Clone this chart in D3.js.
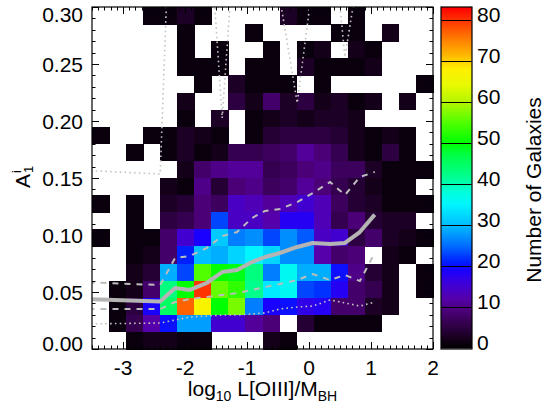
<!DOCTYPE html>
<html><head><meta charset="utf-8">
<script src="https://cdn.jsdelivr.net/npm/d3@7"></script>
<style>body{margin:0;background:#fff} text{font-family:"Liberation Sans",Arial,Helvetica,sans-serif;fill:#000}</style>
</head><body><svg id="c" width="546" height="411"></svg>
<script>
// ---- data ----
const xDomain = [-3.5, 2.0];
const yDomain = [0, 0.30];
const nBinsX = 20, nBinsY = 20;
// counts per cell, rows from top (A high) to bottom (A low), columns left to right
const counts = [
 [0,0,0,1,1,3,1,0,0,0,0,3,1,1,0,1,0,0,0,0],
 [0,0,0,0,0,1,0,0,0,1,0,0,0,0,1,1,0,2,0,0],
 [0,0,0,0,0,1,0,1,0,0,1,0,1,2,0,2,1,0,0,0],
 [0,0,0,0,0,1,1,1,0,1,1,0,3,1,1,1,2,0,0,0],
 [0,0,0,0,0,0,1,0,3,1,1,1,0,1,0,0,0,0,0,1],
 [0,0,0,0,0,2,0,0,5,2,8,3,5,2,3,1,2,0,2,0],
 [0,0,0,0,0,1,0,3,0,1,2,3,2,3,3,2,0,0,0,0],
 [1,0,0,1,1,3,2,1,0,1,4,5,5,5,4,2,1,2,1,0],
 [0,0,1,0,1,3,1,2,6,6,7,8,11,9,6,2,1,5,1,0],
 [0,0,0,0,0,2,8,10,11,11,6,7,9,10,7,7,3,1,1,1],
 [0,0,0,0,2,1,10,4,9,10,7,8,11,9,6,4,2,1,1,0],
 [1,0,1,0,3,4,9,7,14,13,11,13,15,13,7,4,3,1,1,1],
 [0,0,1,0,5,6,9,23,14,14,12,18,18,13,6,9,4,3,3,0],
 [1,0,1,1,8,15,19,31,26,27,23,27,24,14,15,5,8,3,2,1],
 [0,0,1,2,8,21,30,29,32,35,32,27,27,12,8,9,0,2,1,0],
 [0,0,2,4,29,23,55,50,49,43,26,36,29,29,20,10,4,2,0,1],
 [0,1,2,8,43,50,80,56,53,42,34,36,23,22,18,8,6,2,0,1],
 [0,1,5,19,45,77,67,50,57,26,19,20,17,18,8,8,3,2,0,0],
 [0,1,6,12,20,28,28,15,15,11,9,0,4,1,1,1,1,0,0,0],
 [0,0,1,2,2,1,1,0,0,0,2,1,0,0,0,0,0,0,0,0]
];
// running statistics lines
const lineX   = [-3.75,-2.40,-2.16,-1.92,-1.65,-1.40,-1.16,-0.92,-0.71,-0.47,-0.19,0.06,0.34,0.58,0.82,1.06];
const medianY = [0.0440,0.0417,0.0535,0.0518,0.0579,0.0675,0.0693,0.0763,0.0807,0.0842,0.0895,0.0930,0.0921,0.0930,0.1026,0.1179];
const upperQY = [0.0588,0.0561,0.0798,0.0816,0.0886,0.0991,0.1026,0.1149,0.1211,0.1228,0.1289,0.1368,0.1465,0.1351,0.1509,0.1553];
const lowerQY = [0.0351,0.0351,0.0412,0.0439,0.0456,0.0474,0.0491,0.0518,0.0544,0.0570,0.0605,0.0658,0.0605,0.0649,0.0596,0.0842];
const lowPctY = [0.0219,0.0228,0.0254,0.0281,0.0289,0.0298,0.0298,0.0307,0.0316,0.0351,0.0368,0.0377,0.0430,0.0404,0.0377,0.0412];
const highPctY= [0.1570,0.1535,0.5110,0.5500,0.4070,0.2026,0.3920,0.4500,0.4000,0.3075,0.2158,0.3210,0.3880,0.2561,0.3380,0.3500];
const xTicks = [-3,-2,-1,0,1,2];
const yTicks = [0.00,0.05,0.10,0.15,0.20,0.25,0.30];
const cbTicks = [0,10,20,30,40,50,60,70,80];
// colour table (count -> colour)
const cmapStops = [0,2,5,9,12,16,19,21,25,30,35,38,42,47,50,55,60,64,68,71,75,80,83];
const cmapColors = ["#000000","#140019","#2d0041","#4b0078","#5500aa","#3c00dc","#1900ff","#001eff","#006eff","#00beff","#00f5ff","#00ffdc","#00ff8c","#00ff46","#00ff00","#50ff00","#b4f500","#e6fa00","#fff000","#ffbe00","#ff8200","#ff3200","#ff0000"];

// ---- layout ----
const W=546,H=411;
const P={l:92,r:433,t:7,b:349};
const svg=d3.select("#c");
const x=d3.scaleLinear().domain(xDomain).range([P.l,P.r]);
const y=d3.scaleLinear().domain(yDomain).range([P.b,P.t]);
const cmap=d3.scaleLinear().domain(cmapStops).range(cmapColors).interpolate(d3.interpolateRgb).clamp(true);
const dx=(xDomain[1]-xDomain[0])/nBinsX, dy=(yDomain[1]-yDomain[0])/nBinsY;

// cells
const cells=[];
counts.forEach((row,r)=>row.forEach((v,c)=>{ if(v>0) cells.push({r,c,v}); }));
svg.append("g").attr("shape-rendering","crispEdges").selectAll("rect").data(cells).join("rect")
  .attr("x",d=>x(xDomain[0]+d.c*dx))
  .attr("width",d=>x(xDomain[0]+(d.c+1)*dx)-x(xDomain[0]+d.c*dx)+0.5)
  .attr("y",d=>y(yDomain[1]-d.r*dy))
  .attr("height",d=>y(yDomain[1]-(d.r+1)*dy)-y(yDomain[1]-d.r*dy)+0.5)
  .attr("fill",d=>cmap(d.v));

// lines
svg.append("clipPath").attr("id","clip").append("rect").attr("x",P.l).attr("y",P.t).attr("width",P.r-P.l).attr("height",P.b-P.t);
const lg=svg.append("g").attr("clip-path","url(#clip)").attr("fill","none");
const mk=ys=>d3.line().x((d,i)=>x(lineX[i])).y(d=>y(d))(ys);
lg.append("path").attr("d",mk(lowPctY)).attr("stroke","#c4c4c4").attr("stroke-width",1.6).attr("stroke-dasharray","1.6,3.2");
lg.append("path").attr("d",mk(highPctY)).attr("stroke","#c4c4c4").attr("stroke-width",1.6).attr("stroke-dasharray","1.6,3.2");
lg.append("path").attr("d",mk(lowerQY)).attr("stroke","#bdbdbd").attr("stroke-width",2).attr("stroke-dasharray","6,6");
lg.append("path").attr("d",mk(upperQY)).attr("stroke","#bdbdbd").attr("stroke-width",2).attr("stroke-dasharray","6,6");
lg.append("path").attr("d",mk(medianY)).attr("stroke","#b4b4b4").attr("stroke-width",4).attr("stroke-linejoin","round");

// ticks
const tg=svg.append("g").attr("stroke","#000").attr("stroke-width",1);
const xMinor=d3.range(-35,21).map(d=>d/10);
const yMinor=d3.range(0,31).map(d=>d/100);
const tick=(arr,len,isX)=>arr.forEach(v=>{
  if(isX){const px=Math.round(x(v))+0.5;
    tg.append("line").attr("x1",px).attr("x2",px).attr("y1",P.b).attr("y2",P.b-len);
    tg.append("line").attr("x1",px).attr("x2",px).attr("y1",P.t).attr("y2",P.t+len);}
  else{const py=Math.round(y(v))+0.5;
    tg.append("line").attr("y1",py).attr("y2",py).attr("x1",P.l).attr("x2",P.l+len);
    tg.append("line").attr("y1",py).attr("y2",py).attr("x1",P.r).attr("x2",P.r-len);}
});
tick(xMinor,3.5,true); tick(xTicks,7,true);
tick(yMinor,3.5,false); tick(yTicks,7,false);
svg.append("rect").attr("x",P.l).attr("y",P.t).attr("width",P.r-P.l).attr("height",P.b-P.t)
  .attr("fill","none").attr("stroke","#000").attr("stroke-width",1.2);

// tick labels
const FS=21;
svg.append("g").selectAll("text").data(xTicks).join("text")
  .attr("x",d=>x(d)).attr("y",375).attr("text-anchor","middle").attr("font-size",FS)
  .text(d=>d3.format("d")(d).replace("−","-"));
svg.append("g").selectAll("text").data(yTicks).join("text")
  .attr("x",83).attr("y",d=>Math.min(343,Math.max(14,y(d)))).attr("dy","0.36em")
  .attr("text-anchor","end").attr("font-size",FS).text(d=>d3.format(".2f")(d));

// axis titles
const xt=svg.append("text").attr("x",(P.l+P.r)/2).attr("y",396).attr("text-anchor","middle").attr("font-size",FS);
xt.append("tspan").text("log");
xt.append("tspan").attr("font-size",14).attr("dy",5).text("10");
xt.append("tspan").attr("dy",-5).text(" L[OIII]/M");
xt.append("tspan").attr("font-size",14).attr("dy",5).text("BH");

const yt=svg.append("g").attr("transform","translate(30,181) rotate(-90)");
yt.append("text").attr("x",-7).attr("y",0).attr("font-size",FS).text("A");
yt.append("text").attr("x",8).attr("y",-9).attr("font-size",13).text("i");
yt.append("text").attr("x",8).attr("y",3).attr("font-size",13).text("1");

// colourbar
const CB={l:441,r:472,t:7,b:349};
const cb=d3.scaleLinear().domain([0,80]).range([348,20]);
const strips=d3.range(CB.t,CB.b);
svg.append("g").attr("shape-rendering","crispEdges").selectAll("rect").data(strips).join("rect")
  .attr("x",CB.l).attr("width",CB.r-CB.l).attr("y",d=>d).attr("height",1.2)
  .attr("fill",d=>cmap(Math.max(0,cb.invert(d+0.5))));
svg.append("g").attr("stroke","#000").attr("stroke-width",1).selectAll("line").data(cbTicks).join("line")
  .attr("x1",CB.l).attr("x2",CB.r).attr("y1",d=>Math.round(cb(d))+0.5).attr("y2",d=>Math.round(cb(d))+0.5)
  .attr("stroke",d=>d===0?"#777":"#000");
svg.append("rect").attr("x",CB.l).attr("y",CB.t).attr("width",CB.r-CB.l).attr("height",CB.b-CB.t)
  .attr("fill","none").attr("stroke","#000").attr("stroke-width",1.2);
svg.append("g").selectAll("text").data(cbTicks).join("text")
  .attr("x",477).attr("y",d=>cb(d)-5.5).attr("dy","0.36em").attr("font-size",FS).text(d=>d);
svg.append("text").attr("transform","translate(541,190) rotate(-90)").attr("text-anchor","middle")
  .attr("font-size",FS).text("Number of Galaxies");
</script></body></html>
